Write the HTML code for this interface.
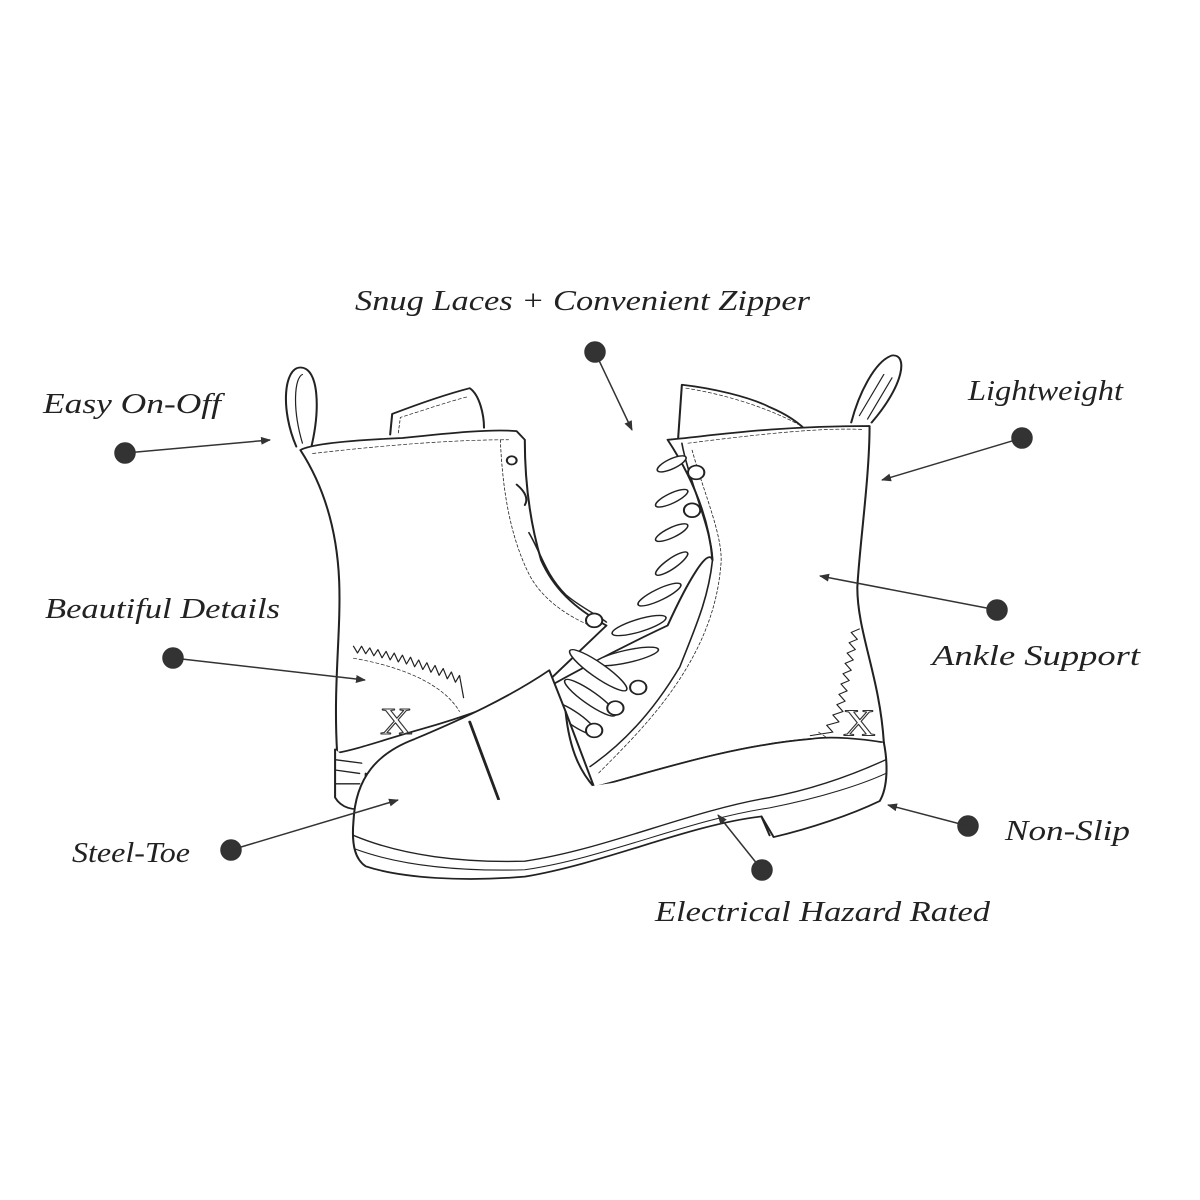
<!DOCTYPE html>
<html><head><meta charset="utf-8"><style>
html,body{margin:0;padding:0;background:#fff;}
svg{display:block;}
text{font-family:"Liberation Serif",serif;font-style:italic;fill:#222;font-size:28px;}
</style></head><body>
<svg width="1200" height="1200" viewBox="0 0 1200 1200" xmlns="http://www.w3.org/2000/svg">
<defs>
<marker id="ah" markerWidth="10" markerHeight="8" refX="9" refY="4" orient="auto" markerUnits="userSpaceOnUse">
<path d="M0,0 L10,4 L0,8 Z" fill="#333"/></marker>
</defs>
<rect width="1200" height="1200" fill="#fff"/>

<!-- boots drawn in zoom coords -->
<g transform="translate(280,340) scale(0.408,0.344)" fill="none" stroke="#222" stroke-width="5" stroke-linejoin="round" stroke-linecap="round">
<!-- back boot pull tab -->
<path d="M40,310 C0,200 10,80 50,80 C95,80 100,200 75,320" fill="#fff"/>
<path d="M55,300 C30,200 35,110 55,100" stroke-width="3"/>
<!-- back boot tongue -->
<path d="M270,275 L275,215 C330,190 400,160 465,140 C490,160 500,220 500,255" fill="#fff"/>
<path d="M290,270 L295,225 C350,205 410,180 460,165" stroke-width="2" stroke-dasharray="8 6"/>
<!-- back boot shaft -->
<path d="M50,320 C80,300 200,290 300,285 C420,270 520,258 580,265 L600,290 C600,400 610,520 640,640 C670,720 720,780 800,830 L650,1000 C560,1050 440,1100 350,1130 C260,1160 190,1190 140,1200 C130,1000 150,850 145,700 C140,560 110,430 50,320 Z" fill="#fff"/>
<path d="M80,330 C300,300 450,290 560,290" stroke-width="2" stroke-dasharray="8 6"/>
<path d="M540,290 C545,420 560,560 610,680 C640,750 700,800 760,830" stroke-width="2" stroke-dasharray="8 6"/>
<circle cx="568" cy="350" r="12"/>
<path d="M580,420 C600,440 610,460 600,480" />
<path d="M610,560 C640,620 650,680 700,740 C740,780 780,800 800,820" stroke-width="4"/>
<!-- zigzag -->
<path d="M180,890 L190,910 L200,890 L210,912 L220,895 L230,918 L240,900 L250,924 L260,905 L270,930 L280,910 L290,936 L300,916 L310,942 L320,922 L330,950 L340,930 L350,958 L360,938 L370,966 L380,946 L390,975 L400,955 L410,985 L420,965 L430,995 L440,975 L450,1040" stroke-width="3"/>
<path d="M180,925 C300,950 400,1000 440,1080" stroke-width="2" stroke-dasharray="8 6"/>
<text x="245" y="1145" style="font-size:110px;font-style:normal;fill:none;stroke:#333;stroke-width:3;font-family:'Liberation Serif',serif">X</text>
<!-- back heel -->
<path d="M135,1190 L135,1330 C150,1360 180,1370 210,1360 L210,1260" fill="#fff"/>
<path d="M135,1220 L200,1230 M135,1250 L195,1260 M135,1290 L195,1290" stroke-width="4"/>

<!-- front boot pull tab -->
<path d="M1400,240 C1420,150 1460,60 1500,45 C1540,40 1530,130 1450,240" fill="#fff"/>
<path d="M1420,220 L1480,100 M1440,230 L1500,110" stroke-width="3"/>
<!-- front tongue -->
<path d="M975,300 L985,130 C1060,140 1150,165 1200,195 C1250,220 1280,250 1295,270" fill="#fff"/>
<path d="M995,140 C1100,160 1200,200 1270,245" stroke-width="2" stroke-dasharray="8 6"/>
<!-- front shaft -->
<path d="M950,290 C1050,280 1200,250 1445,250 C1445,400 1420,600 1415,720 C1415,850 1470,980 1480,1170 L1300,1160 C1100,1180 900,1260 770,1300 L640,1020 C760,940 860,880 950,830 C1000,700 1050,600 1060,640 C1050,500 1000,380 950,290 Z" fill="#fff"/>
<path d="M1000,300 C1200,270 1330,255 1430,260" stroke-width="2" stroke-dasharray="8 6"/>
<path d="M985,300 C1000,400 1060,560 1060,640 C1050,750 1020,830 980,950 C940,1030 870,1150 760,1240" stroke-width="4"/>
<path d="M1010,320 C1040,450 1090,580 1080,660 C1070,800 1020,920 960,1020 C900,1120 830,1200 780,1260" stroke-width="2" stroke-dasharray="8 6"/>
<!-- zigzag front -->
<path d="M1420,840 L1400,850 L1415,870 L1395,880 L1410,900 L1390,910 L1405,930 L1385,940 L1400,960 L1380,970 L1395,990 L1375,1000 L1390,1020 L1370,1030 L1385,1050 L1365,1060 L1380,1080 L1355,1090 L1370,1110 L1340,1120 L1355,1140 L1300,1150" stroke-width="3"/>
<text x="1380" y="1150" style="font-size:110px;font-style:normal;fill:none;stroke:#333;stroke-width:3;font-family:'Liberation Serif',serif">X</text>
<path d="M1320,1140 C1360,1170 1390,1200 1400,1230" stroke-width="2" stroke-dasharray="8 6"/>
<!-- laces -->
<g stroke-width="4" fill="#fff">
<ellipse cx="960" cy="360" rx="40" ry="14" transform="rotate(-30 960 360)"/>
<ellipse cx="960" cy="460" rx="45" ry="14" transform="rotate(-30 960 460)"/>
<ellipse cx="960" cy="560" rx="45" ry="14" transform="rotate(-30 960 560)"/>
<ellipse cx="960" cy="650" rx="50" ry="14" transform="rotate(-40 960 650)"/>
<ellipse cx="930" cy="740" rx="60" ry="16" transform="rotate(-30 930 740)"/>
<ellipse cx="880" cy="830" rx="70" ry="18" transform="rotate(-20 880 830)"/>
<ellipse cx="850" cy="920" rx="80" ry="18" transform="rotate(-15 850 920)"/>
<ellipse cx="780" cy="960" rx="90" ry="20" transform="rotate(40 780 960)"/>
<ellipse cx="760" cy="1040" rx="80" ry="18" transform="rotate(40 760 1040)"/>
<ellipse cx="720" cy="1100" rx="70" ry="18" transform="rotate(40 720 1100)"/>
</g>
<g stroke-width="5" fill="#fff">
<circle cx="1020" cy="385" r="20"/><circle cx="1010" cy="495" r="20"/>
<circle cx="770" cy="1135" r="20"/><circle cx="822" cy="1070" r="20"/><circle cx="878" cy="1010" r="20"/>
<circle cx="770" cy="815" r="20"/>
</g>
<!-- toe cap and vamp -->
<path d="M660,960 C560,1040 450,1100 330,1160 C240,1200 185,1270 180,1400 C180,1450 300,1520 600,1545 C800,1500 1000,1400 1180,1380 C1300,1340 1420,1260 1480,1170 C1430,1160 1350,1150 1300,1160 C1100,1180 900,1260 770,1300 L700,1080 Z" fill="#fff"/>
<path d="M465,1110 L600,1540" stroke-width="7"/>
<path d="M700,1080 C710,1200 740,1260 770,1300" />
<!-- sole -->
<path d="M180,1400 C175,1470 185,1510 210,1530 C300,1565 450,1575 600,1560 C800,1520 1000,1410 1180,1385 L1210,1445 C1300,1420 1400,1380 1470,1340 C1490,1300 1490,1230 1480,1170" fill="#fff"/>
<path d="M180,1440 C300,1500 450,1520 600,1515 C800,1480 1000,1370 1200,1330 C1330,1300 1430,1250 1485,1220" stroke-width="4"/>
<path d="M185,1480 C300,1530 450,1545 600,1540 C800,1505 1000,1395 1200,1360 C1330,1330 1430,1290 1485,1260" stroke-width="3"/>
<path d="M1180,1385 L1200,1440" />
</g>

<!-- labels -->
<text x="355" y="310" textLength="455" lengthAdjust="spacingAndGlyphs">Snug Laces + Convenient Zipper</text>
<text x="43" y="413" textLength="178" lengthAdjust="spacingAndGlyphs">Easy On-Off</text>
<text x="968" y="400" textLength="155" lengthAdjust="spacingAndGlyphs">Lightweight</text>
<text x="45" y="618" textLength="235" lengthAdjust="spacingAndGlyphs">Beautiful Details</text>
<text x="932" y="665" textLength="208" lengthAdjust="spacingAndGlyphs">Ankle Support</text>
<text x="72" y="862" textLength="118" lengthAdjust="spacingAndGlyphs">Steel-Toe</text>
<text x="1005" y="840" textLength="125" lengthAdjust="spacingAndGlyphs">Non-Slip</text>
<text x="655" y="921" textLength="335" lengthAdjust="spacingAndGlyphs">Electrical Hazard Rated</text>

<!-- dots + arrows -->
<g fill="#333" stroke="#333" stroke-width="1.5">
<circle cx="595" cy="352" r="10"/><line x1="595" y1="352" x2="632" y2="430" marker-end="url(#ah)"/>
<circle cx="125" cy="453" r="10"/><line x1="125" y1="453" x2="270" y2="440" marker-end="url(#ah)"/>
<circle cx="1022" cy="438" r="10"/><line x1="1022" y1="438" x2="882" y2="480" marker-end="url(#ah)"/>
<circle cx="173" cy="658" r="10"/><line x1="173" y1="658" x2="365" y2="680" marker-end="url(#ah)"/>
<circle cx="997" cy="610" r="10"/><line x1="997" y1="610" x2="820" y2="576" marker-end="url(#ah)"/>
<circle cx="231" cy="850" r="10"/><line x1="231" y1="850" x2="398" y2="800" marker-end="url(#ah)"/>
<circle cx="968" cy="826" r="10"/><line x1="968" y1="826" x2="888" y2="805" marker-end="url(#ah)"/>
<circle cx="762" cy="870" r="10"/><line x1="762" y1="870" x2="718" y2="815" marker-end="url(#ah)"/>
</g>
</svg>
</body></html>
